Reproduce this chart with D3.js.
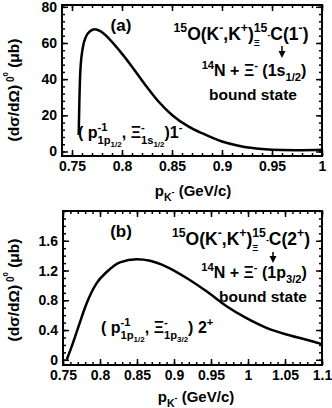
<!DOCTYPE html>
<html lang="en">
<head>
    <meta charset="UTF-8">
    <title>Xi hypernucleus cross sections</title>
    <script src="https://d3js.org/d3.v7.min.js"></script>
    <style>
        body { margin: 0; background: #fff; }
        text { font-family: "Liberation Sans", Arial, Helvetica, sans-serif; font-weight: bold; fill: #000; white-space: pre; }
    </style>
</head>
<body>
    <script>
        // panel (a): 1- state
        const pA = [0.7567, 0.7573, 0.7583, 0.7607, 0.764, 0.7683, 0.7727, 0.7783, 0.7867, 0.7983,
                    0.81, 0.8233, 0.8367, 0.85, 0.8667, 0.88, 0.90, 0.92, 0.94, 0.96, 0.98, 1.0];
        const sigA = [9.1, 25.7, 44.1, 57.1, 63.5, 66.6, 67.6, 66.6, 62.6, 55.2,
                      46.9, 36.8, 27.5, 20.2, 13.7, 10.1, 5.5, 2.8, 1.4, 0.8, 0.7, 0.9];
        const xTicksA = [0.75, 0.8, 0.85, 0.9, 0.95, 1.0];
        const xLabelsA = ["0.75", "0.8", "0.85", "0.9", "0.95", "1"];
        const yTicksA = [0, 20, 40, 60, 80];
        const yLabelsA = ["0", "20", "40", "60", "80"];

        // panel (b): 2+ state
        const pB = [0.755, 0.7618, 0.7707, 0.782, 0.7955, 0.809, 0.827, 0.8496, 0.8676, 0.89,
                    0.917, 0.944, 0.971, 0.998, 1.025, 1.052, 1.079, 1.1];
        const sigB = [0.0, 0.18, 0.44, 0.76, 1.03, 1.18, 1.31, 1.35, 1.33, 1.25,
                      1.10, 0.92, 0.72, 0.56, 0.43, 0.34, 0.27, 0.21];
        const xTicksB = [0.75, 0.8, 0.85, 0.9, 0.95, 1.0, 1.05, 1.1];
        const xLabelsB = ["0.75", "0.8", "0.85", "0.9", "0.95", "1", "1.05", "1.1"];
        const yTicksB = [0, 0.4, 0.8, 1.2, 1.6];
        const yLabelsB = ["0", "0.4", "0.8", "1.2", "1.6"];

        const svg = d3.select("body").append("svg")
            .attr("width", 332)
            .attr("height", 408);

        // text with super/subscripts, parts: [text, scale, dy, stack]
        function rich(x, y, parts, size, anchor, rotate) {
            const g = svg.append("g");
            const inner = g.append("g");
            let cx = 0, prevStart = 0, prevEnd = 0;
            parts.forEach(p => {
                const el = inner.append("text")
                    .attr("font-size", size * (p[1] || 1))
                    .attr("y", (p[2] || 0) * size)
                    .text(p[0]);
                const start = p[3] ? prevStart : cx;
                el.attr("x", start);
                const w = el.node().getComputedTextLength();
                const end = start + w;
                cx = p[3] ? Math.max(prevEnd, end) : end;
                prevStart = start;
                prevEnd = end;
            });
            let off = 0;
            if (anchor === "middle") off = -cx / 2;
            if (anchor === "end") off = -cx;
            inner.attr("transform", "translate(" + off + ",0)");
            g.attr("transform", "translate(" + x + "," + y + ")" + (rotate ? " rotate(" + rotate + ")" : ""));
            return g;
        }

        function panel(cfg) {
            const x = d3.scaleLinear().domain(cfg.xDom).range(cfg.xRange);
            const y = d3.scaleLinear().domain(cfg.yDom).range(cfg.yRange);
            const g = svg.append("g");
            const [x0, x1] = cfg.xRange;
            const [y0, y1] = cfg.yRange;

            const bottom = d3.axisBottom(x).tickValues(cfg.xTicks).tickSize(-6).tickPadding(5)
                .tickFormat((d, i) => cfg.xLabels[i]);
            const left = d3.axisLeft(y).tickValues(cfg.yTicks).tickSize(-6).tickPadding(5)
                .tickFormat((d, i) => cfg.yLabels[i]);

            const axes = [
                g.append("g").attr("transform", "translate(0," + y0 + ")").call(bottom),
                g.append("g").attr("transform", "translate(" + x0 + ",0)").call(left),
                g.append("g").attr("transform", "translate(0," + y1 + ")")
                    .call(d3.axisTop(x).tickValues(cfg.xTicks).tickSize(-6).tickFormat("")),
                g.append("g").attr("transform", "translate(" + x1 + ",0)")
                    .call(d3.axisRight(y).tickValues(cfg.yTicks).tickSize(-6).tickFormat("")),
                g.append("g").attr("transform", "translate(0," + y0 + ")")
                    .call(d3.axisBottom(x).tickValues(cfg.xMinor).tickSize(-3).tickFormat("")),
                g.append("g").attr("transform", "translate(0," + y1 + ")")
                    .call(d3.axisTop(x).tickValues(cfg.xMinor).tickSize(-3).tickFormat("")),
                g.append("g").attr("transform", "translate(" + x0 + ",0)")
                    .call(d3.axisLeft(y).tickValues(cfg.yMinor).tickSize(-3).tickFormat("")),
                g.append("g").attr("transform", "translate(" + x1 + ",0)")
                    .call(d3.axisRight(y).tickValues(cfg.yMinor).tickSize(-3).tickFormat(""))
            ];
            axes.forEach(a => {
                a.select(".domain").remove();
                a.selectAll("line").attr("stroke", "#000").attr("stroke-width", 1.5);
                a.selectAll("text").attr("font-size", 14).attr("fill", "#000")
                    .attr("font-family", null);
            });

            g.append("rect")
                .attr("x", x0).attr("y", y1)
                .attr("width", x1 - x0).attr("height", y0 - y1)
                .attr("fill", "none").attr("stroke", "#000").attr("stroke-width", 2);

            const line = d3.line()
                .x((d, i) => x(cfg.px[i]))
                .y(d => y(d))
                .curve(d3.curveMonotoneX);
            g.append("path")
                .datum(cfg.py)
                .attr("d", line)
                .attr("fill", "none")
                .attr("stroke", "#000")
                .attr("stroke-width", 2.5);
            return { x, y };
        }

        const range = (a, b, s) => d3.range(Math.round((b - a) / s) + 1).map(i => +(a + i * s).toFixed(4));

        panel({
            xDom: [0.74, 1.0], xRange: [62, 322], yDom: [-2.5, 81], yRange: [156, 5],
            xTicks: xTicksA, xLabels: xLabelsA, yTicks: yTicksA, yLabels: yLabelsA,
            xMinor: range(0.74, 1.0, 0.01), yMinor: range(0, 80, 4),
            px: pA, py: sigA
        });
        panel({
            xDom: [0.75, 1.1], xRange: [63, 322], yDom: [-0.07, 2.0], yRange: [365, 211],
            xTicks: xTicksB, xLabels: xLabelsB, yTicks: yTicksB, yLabels: yLabelsB,
            xMinor: range(0.75, 1.1, 0.01), yMinor: range(0, 2.0, 0.1),
            px: pB, py: sigB
        });

        // axis titles
        const yTitle = [["(d\u03c3/d\u03a9)"], [" 0", 0.65, -0.35], ["0", 0.5, -0.7], [" (\u03bcb)"]];
        const xTitle = [["p"], ["K", 0.7, 0.3], ["-", 0.6, -0.05], [" (GeV/c)"]];
        rich(19, 90, yTitle, 15.5, "middle", -90);
        rich(19, 290, yTitle, 15.5, "middle", -90);
        rich(193, 196, xTitle, 15, "middle");
        rich(196, 402, xTitle, 15, "middle");

        // panel (a) annotations
        rich(121, 31, [["(a)"]], 17, "middle");
        rich(241, 40, [["15", 0.7, -0.45], ["O(K"], ["-", 0.7, -0.45], [",K"], ["+", 0.7, -0.45], [")"],
                       ["15", 0.7, -0.45], ["\u039e", 0.55, 0.35, true], ["-", 0.5, -0.1], ["C(1"], ["-", 0.7, -0.45], [")"]],
             17.5, "middle");
        rich(254, 76, [["14", 0.7, -0.45], ["N + "], ["\u039e", 1], ["-", 0.7, -0.45], [" (1s"], ["1/2", 0.7, 0.3], [")"]],
             16, "middle");
        rich(253, 100, [["bound state"]], 15.5, "middle");
        rich(78, 138, [["( p"], ["-1", 0.7, -0.45], ["1p", 0.7, 0.35, true], ["1/2", 0.5, 0.55], [", "],
                       ["\u039e"], ["-", 0.7, -0.45], ["1s", 0.7, 0.35, true], ["1/2", 0.5, 0.55], [")1"], ["-", 0.7, -0.45]],
             16, "start");

        // panel (b) annotations
        rich(121, 237, [["(b)"]], 17, "middle");
        rich(241, 245, [["15", 0.7, -0.45], ["O(K"], ["-", 0.7, -0.45], [",K"], ["+", 0.7, -0.45], [")"],
                        ["15", 0.7, -0.45], ["\u039e", 0.55, 0.35, true], ["-", 0.5, -0.1], ["C(2"], ["+", 0.7, -0.45], [")"]],
             17.5, "middle");
        rich(254, 278, [["14", 0.7, -0.45], ["N + "], ["\u039e", 1], ["-", 0.7, -0.45], [" (1p"], ["3/2", 0.7, 0.3], [")"]],
             16, "middle");
        rich(263, 302, [["bound state"]], 15.5, "middle");
        rich(101, 333, [["( p"], ["-1", 0.7, -0.45], ["1p", 0.7, 0.35, true], ["1/2", 0.5, 0.55], [", "],
                        ["\u039e"], ["-", 0.7, -0.45], ["1p", 0.7, 0.35, true], ["3/2", 0.5, 0.55], [") 2"], ["+", 0.7, -0.45]],
             16, "start");

        // decay arrows
        function arrow(ax, ay0, ay1) {
            svg.append("line").attr("x1", ax).attr("x2", ax).attr("y1", ay0).attr("y2", ay1 - 5)
                .attr("stroke", "#000").attr("stroke-width", 1.5);
            svg.append("path")
                .attr("d", "M" + (ax - 3.5) + "," + (ay1 - 7) + "L" + (ax + 3.5) + "," + (ay1 - 7) + "L" + ax + "," + ay1 + "Z")
                .attr("fill", "#000");
        }
        arrow(282, 46, 58);
        arrow(273, 252, 263);
    </script>
</body>
</html>
